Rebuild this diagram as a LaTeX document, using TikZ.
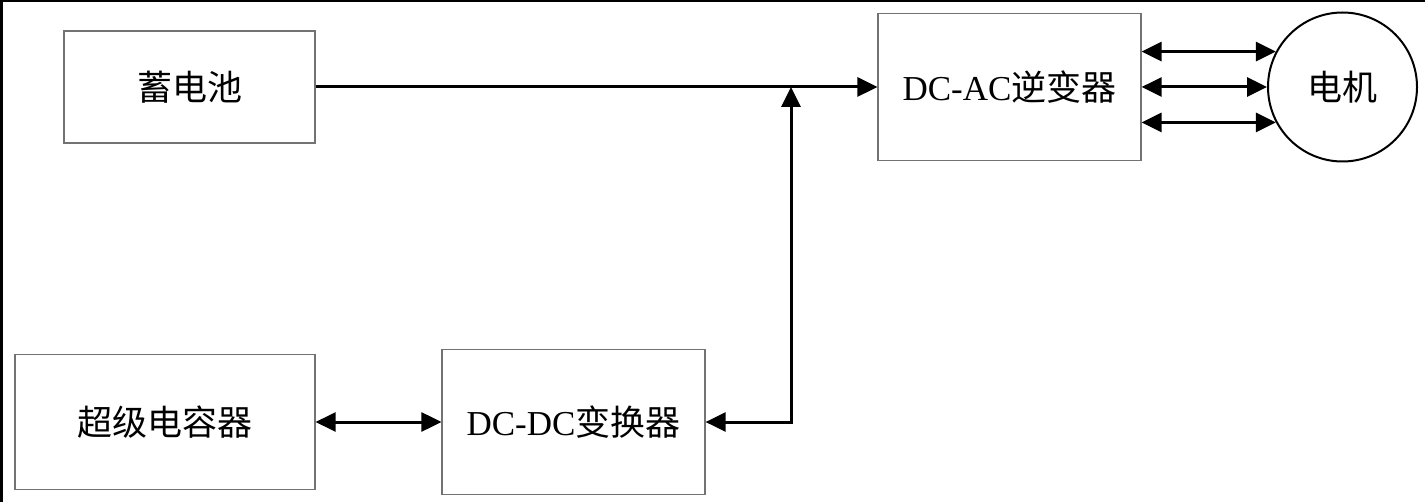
\documentclass[tikz,border=0pt]{standalone}
\usepackage{fontspec}
\setmainfont{Liberation Serif}
\newfontfamily\cjk{Noto Sans CJK SC}
\usetikzlibrary{positioning,arrows.meta}

\begin{document}
\begin{tikzpicture}[x=0.5pt,y=-0.5pt,on grid,
   >={Triangle[length=10pt,width=9.5pt]},
   block/.style={draw=black!55,line width=0.6pt,inner sep=0pt,
      font=\fontsize{17.5pt}{20pt}\selectfont},
   link/.style={line width=1.5pt}]
   \useasboundingbox (0,0) rectangle (1425,502);
   \draw[line width=1.5pt] (1,502) -- (1,1) -- (1425,1);

   \node[block,minimum width=125.5pt,minimum height=56pt] (bat) at (189.5,87) {\cjk 蓄电池};
   \node[block,minimum width=131.5pt,minimum height=73.5pt] (dcac) [right=410pt of bat] {DC-AC{\cjk 逆变器}};
   \node[draw,circle,line width=1pt,inner sep=0pt,minimum size=74.5pt,
      font=\fontsize{17.5pt}{20pt}\selectfont] (motor) [right=166.5pt of dcac] {\cjk 电机};
   \node[block,minimum width=150pt,minimum height=67.5pt] (cap) at (165,422) {\cjk 超级电容器};
   \node[block,minimum width=131.5pt,minimum height=72.5pt] (dcdc) [right=204.25pt of cap] {DC-DC{\cjk 变换器}};
   \coordinate (join) at (791,87);

   \draw[->,link] (bat) -- (dcac);
   \draw[<->,link] (dcdc.east) -| (join);
   \draw[<->,link] (cap) -- (dcdc);
   \foreach \a in {152,180,208}
      \draw[<->,link] (dcac.east |- motor.\a) -- (motor.\a);
\end{tikzpicture}
\end{document}
